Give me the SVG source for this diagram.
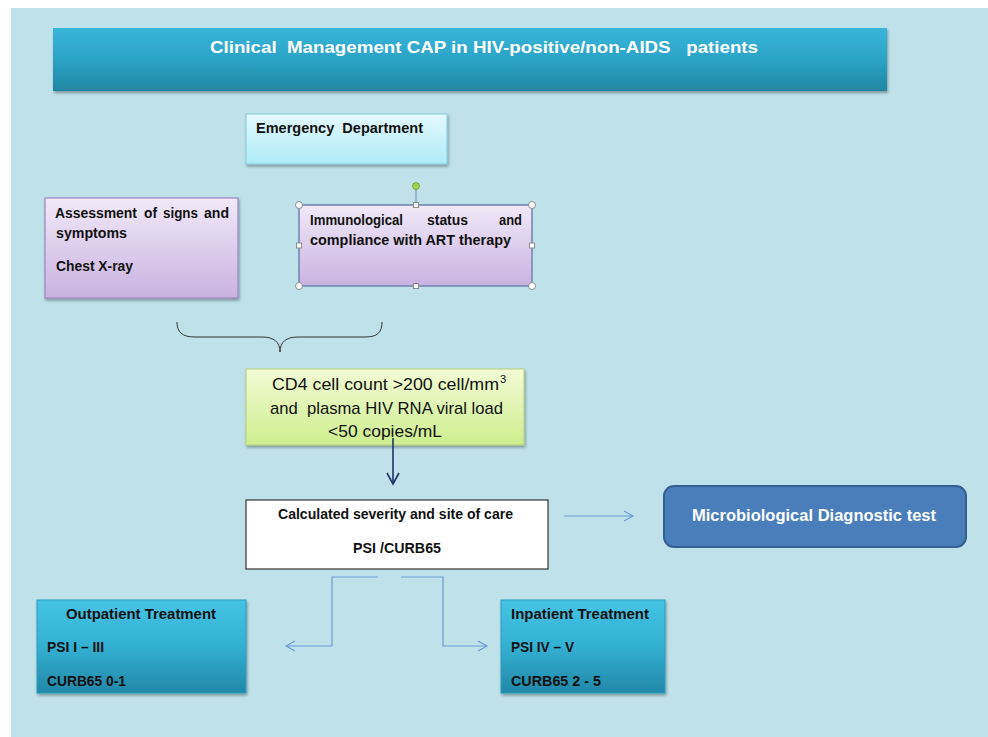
<svg xmlns="http://www.w3.org/2000/svg" width="988" height="737" viewBox="0 0 988 737">
<defs>
<linearGradient id="gTitle" x1="0" y1="0" x2="0" y2="1"><stop offset="0" stop-color="#38b6da"/><stop offset="0.5" stop-color="#2ba3c6"/><stop offset="1" stop-color="#1f86a2"/></linearGradient>
<linearGradient id="gEm" x1="0" y1="0" x2="0" y2="1"><stop offset="0" stop-color="#e4f9fd"/><stop offset="1" stop-color="#aeebf8"/></linearGradient>
<linearGradient id="gLav" x1="0" y1="0" x2="0" y2="1"><stop offset="0" stop-color="#f1e9f8"/><stop offset="1" stop-color="#c9b2e0"/></linearGradient>
<linearGradient id="gGreen" x1="0" y1="0" x2="0" y2="1"><stop offset="0" stop-color="#f3fbd6"/><stop offset="1" stop-color="#cdee8e"/></linearGradient>
<linearGradient id="gTeal" x1="0" y1="0" x2="0" y2="1"><stop offset="0" stop-color="#45c4e4"/><stop offset="0.5" stop-color="#33b0d2"/><stop offset="1" stop-color="#2288a8"/></linearGradient>
<filter id="sh" x="-10%" y="-10%" width="120%" height="130%"><feDropShadow dx="1" dy="2" stdDeviation="1.5" flood-color="#000" flood-opacity="0.35"/></filter>
<marker id="mOpen" markerWidth="12" markerHeight="12" refX="10" refY="6" orient="auto" markerUnits="userSpaceOnUse"><path d="M1,1 L10,6 L1,11" fill="none" stroke="#6b9bd1" stroke-width="1.2"/></marker>
<marker id="mNavy" markerWidth="14" markerHeight="14" refX="12" refY="7" orient="auto" markerUnits="userSpaceOnUse"><path d="M1,1 L12,7 L1,13" fill="none" stroke="#1f3566" stroke-width="1.6"/></marker>
</defs>
<style>
text{font-family:"Liberation Sans",Arial,sans-serif;}
.b{font-weight:bold;font-size:14px;fill:#111;}
.w{font-weight:bold;fill:#fff;}
.n{font-size:17px;fill:#111;}
.sup{font-size:11px;fill:#111;}
.conn{fill:none;stroke:#6b9bd1;stroke-width:1.2;}
.h{fill:#fff;stroke:#8c8c8c;stroke-width:1;}
</style>
<rect x="0" y="0" width="988" height="737" fill="#fff"/>
<rect x="11" y="8" width="977" height="729" fill="#bfe2ea"/>

<g id="title">
<rect x="53" y="28" width="834" height="63" fill="url(#gTitle)" filter="url(#sh)"/>
<text class="w" x="210" y="53" font-size="17" textLength="548" lengthAdjust="spacingAndGlyphs" xml:space="preserve">Clinical  Management CAP in HIV-positive/non-AIDS   patients</text>
</g>

<g id="emergency">
<rect x="246" y="114" width="201" height="50" fill="url(#gEm)" stroke="#86c9da" stroke-width="1" filter="url(#sh)"/>
<text class="b" x="256" y="133" textLength="167" lengthAdjust="spacingAndGlyphs" xml:space="preserve">Emergency  Department</text>
</g>

<g id="assessment">
<rect x="45" y="198" width="193" height="100" fill="url(#gLav)" stroke="#9a86c2" stroke-width="1.2" filter="url(#sh)"/>
<text class="b" y="218"><tspan x="55" textLength="82" lengthAdjust="spacingAndGlyphs">Assessment</tspan><tspan x="144" textLength="13" lengthAdjust="spacingAndGlyphs">of</tspan><tspan x="163" textLength="35" lengthAdjust="spacingAndGlyphs">signs</tspan><tspan x="204" textLength="25" lengthAdjust="spacingAndGlyphs">and</tspan></text>
<text class="b" x="56" y="238" textLength="71" lengthAdjust="spacingAndGlyphs">symptoms</text>
<text class="b" x="56" y="271" textLength="77" lengthAdjust="spacingAndGlyphs">Chest X-ray</text>
</g>

<g id="immunological">
<rect x="299" y="205" width="233" height="81" fill="url(#gLav)" stroke="#6f83b0" stroke-width="1.5"/>
<text class="b" y="225"><tspan x="310" textLength="93" lengthAdjust="spacingAndGlyphs">Immunological</tspan><tspan x="427" textLength="41" lengthAdjust="spacingAndGlyphs">status</tspan><tspan x="499" textLength="23" lengthAdjust="spacingAndGlyphs">and</tspan></text>
<text class="b" x="310" y="245" textLength="201" lengthAdjust="spacingAndGlyphs">compliance with ART therapy</text>
<line x1="416" y1="186" x2="416" y2="205" stroke="#6f83b0" stroke-width="1"/>
<circle cx="416" cy="186" r="3.5" fill="#9ed84a" stroke="#6aa02a" stroke-width="0.8"/>
<circle class="h" cx="299" cy="205" r="3.5"/>
<circle class="h" cx="532" cy="205" r="3.5"/>
<circle class="h" cx="299" cy="286" r="3.5"/>
<circle class="h" cx="532" cy="286" r="3.5"/>
<rect class="h" x="413.5" y="202.5" width="5" height="5"/>
<rect class="h" x="413.5" y="283.5" width="5" height="5"/>
<rect class="h" x="296.5" y="243" width="5" height="5"/>
<rect class="h" x="529.5" y="243" width="5" height="5"/>
</g>

<g id="brace">
<path d="M177,322 C177,332 182,337 195,337 L262,337 C274,337 280,342 280,352 C280,342 286,337 298,337 L365,337 C378,337 382,332 382,322" fill="none" stroke="#333" stroke-width="1"/>
</g>

<g id="cd4">
<rect x="246" y="369" width="278" height="76" fill="url(#gGreen)" stroke="#b3cf78" stroke-width="1" filter="url(#sh)"/>
<text class="n" x="272" y="390" textLength="227" lengthAdjust="spacingAndGlyphs">CD4 cell count &gt;200 cell/mm</text>
<text class="sup" x="500" y="383">3</text>
<text class="n" x="270" y="414" textLength="233" lengthAdjust="spacingAndGlyphs" xml:space="preserve">and  plasma HIV RNA viral load</text>
<text class="n" x="328" y="437" textLength="114" lengthAdjust="spacingAndGlyphs">&lt;50 copies/mL</text>
</g>

<g id="severity">
<rect x="246" y="500" width="302" height="69" fill="#fff" stroke="#333" stroke-width="1.2"/>
<text class="b" x="278" y="519" textLength="235" lengthAdjust="spacingAndGlyphs">Calculated severity and site of care</text>
<text class="b" x="353" y="553" textLength="88" lengthAdjust="spacingAndGlyphs">PSI /CURB65</text>
</g>

<g id="micro">
<rect x="664" y="486" width="302" height="61" rx="10" ry="10" fill="#4a7ebb" stroke="#345f92" stroke-width="2"/>
<text class="w" x="692" y="521" font-size="16" textLength="244" lengthAdjust="spacingAndGlyphs">Microbiological Diagnostic test</text>
</g>

<g id="outpatient">
<rect x="37" y="600" width="209" height="93" fill="url(#gTeal)" stroke="#2a9cc0" stroke-width="1" filter="url(#sh)"/>
<text class="b" x="66" y="619" textLength="150" lengthAdjust="spacingAndGlyphs">Outpatient Treatment</text>
<text class="b" x="47" y="652" textLength="57" lengthAdjust="spacingAndGlyphs">PSI I – III</text>
<text class="b" x="47" y="686" textLength="79" lengthAdjust="spacingAndGlyphs">CURB65 0-1</text>
</g>

<g id="inpatient">
<rect x="501" y="600" width="164" height="93" fill="url(#gTeal)" stroke="#2a9cc0" stroke-width="1" filter="url(#sh)"/>
<text class="b" x="511" y="619" textLength="138" lengthAdjust="spacingAndGlyphs">Inpatient Treatment</text>
<text class="b" x="511" y="652" textLength="63" lengthAdjust="spacingAndGlyphs">PSI IV – V</text>
<text class="b" x="511" y="686" textLength="90" lengthAdjust="spacingAndGlyphs">CURB65 2 - 5</text>
</g>

<g id="connectors">
<line x1="393" y1="438" x2="393" y2="484" stroke="#1f3566" stroke-width="1.6" marker-end="url(#mNavy)"/>
<line class="conn" x1="564" y1="516" x2="633" y2="516" marker-end="url(#mOpen)"/>
<polyline class="conn" points="378,577 332,577 332,646 286,646" marker-end="url(#mOpen)"/>
<polyline class="conn" points="401,577 443,577 443,646 487,646" marker-end="url(#mOpen)"/>
</g>
</svg>
